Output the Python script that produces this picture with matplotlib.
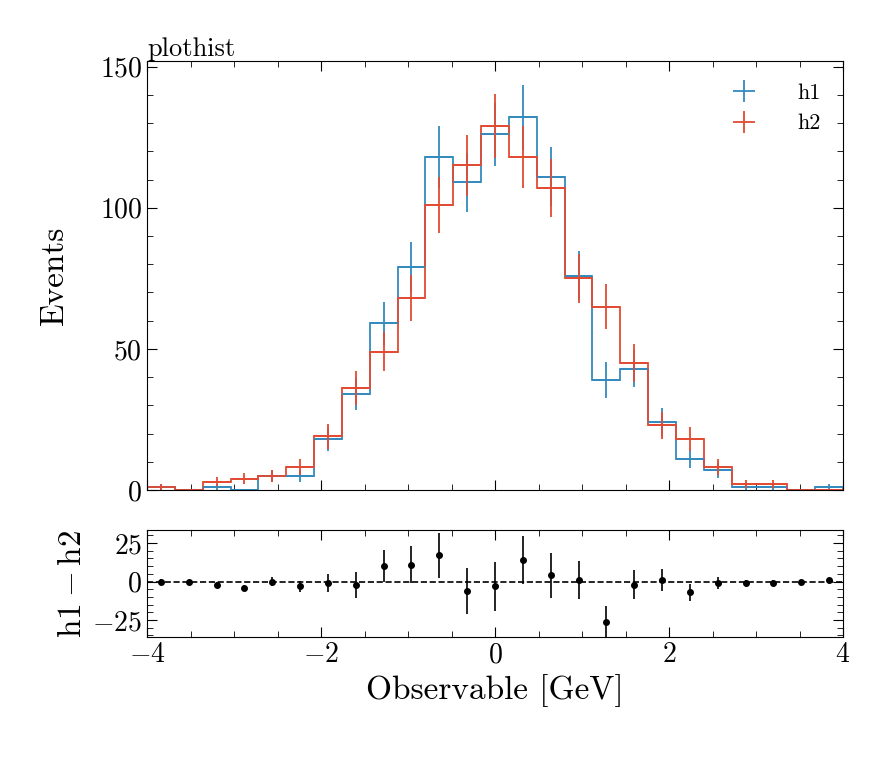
import numpy as np
import matplotlib
matplotlib.use("Agg")
import matplotlib.pyplot as plt
from matplotlib.ticker import MultipleLocator

edges = np.linspace(-4, 4, 26)
h1 = [1, 0, 1, 0, 5, 5, 18, 34, 59, 79, 118, 109, 126, 132, 111, 76, 39, 43, 24, 11, 7, 1, 1, 0, 1]
h2 = [1, 0, 3, 4, 5, 8, 19, 36, 49, 68, 101, 115, 129, 118, 107, 75, 65, 45, 23, 18, 8, 2, 2, 0, 0]

plt.rcParams["font.family"] = "serif"
plt.rcParams["font.serif"] = ["cmr10"]
plt.rcParams["mathtext.fontset"] = "cm"
plt.rcParams["axes.formatter.use_mathtext"] = True
plt.rcParams["font.size"] = 20

h1 = np.array(h1, float)
h2 = np.array(h2, float)
centers = 0.5 * (edges[1:] + edges[:-1])
hw = 0.5 * (edges[1] - edges[0])

fig = plt.figure(figsize=(8.81, 7.68), dpi=100)
ax = fig.add_axes([147/881, 1-490/768, 696/881, 429/768])
rax = fig.add_axes([147/881, 1-637/768, 696/881, 107/768], sharex=ax)

c1, c2 = "#348ABD", "#E24A33"
for h, c, lab in [(h1, c1, "h1"), (h2, c2, "h2")]:
    ax.stairs(h, edges, color=c, lw=1.3)
    ax.errorbar(centers, h, xerr=hw, yerr=np.sqrt(h), fmt="none", ecolor=c, elinewidth=1.3, label=lab)

ax.set_xlim(-4, 4)
ax.set_ylim(0, 152)
ax.yaxis.set_major_locator(MultipleLocator(50))
ax.yaxis.set_minor_locator(MultipleLocator(10))
ax.set_ylabel("Events", fontsize=24, labelpad=22)
ax.set_title("plothist", loc="left", fontsize=19, pad=2)
ax.legend(frameon=False, loc="upper right", fontsize=16, handlelength=3.2, borderaxespad=0.6)
plt.setp(ax.get_xticklabels(), visible=False)

diff = h1 - h2
rax.errorbar(centers, diff, yerr=np.sqrt(h1 + h2), fmt="o", color="black", ms=4, elinewidth=1.2)
rax.axhline(0, color="black", ls="--", lw=1.2)
rax.set_ylim(-36, 33.5)
rax.set_yticks([-25, 0, 25])
rax.yaxis.set_minor_locator(MultipleLocator(5))
rax.set_ylabel(r"$\mathrm{h1} - \mathrm{h2}$", fontsize=24)
rax.set_xlabel("Observable [GeV]", fontsize=24)

for a in (ax, rax):
    a.xaxis.set_major_locator(MultipleLocator(2))
    a.xaxis.set_minor_locator(MultipleLocator(0.5))
    a.tick_params(which="both", direction="in", top=True, right=True)
    a.tick_params(which="major", length=7)
    a.tick_params(which="minor", length=4)
fig.align_ylabels([ax, rax])

fig.savefig("out.png", dpi=100)
